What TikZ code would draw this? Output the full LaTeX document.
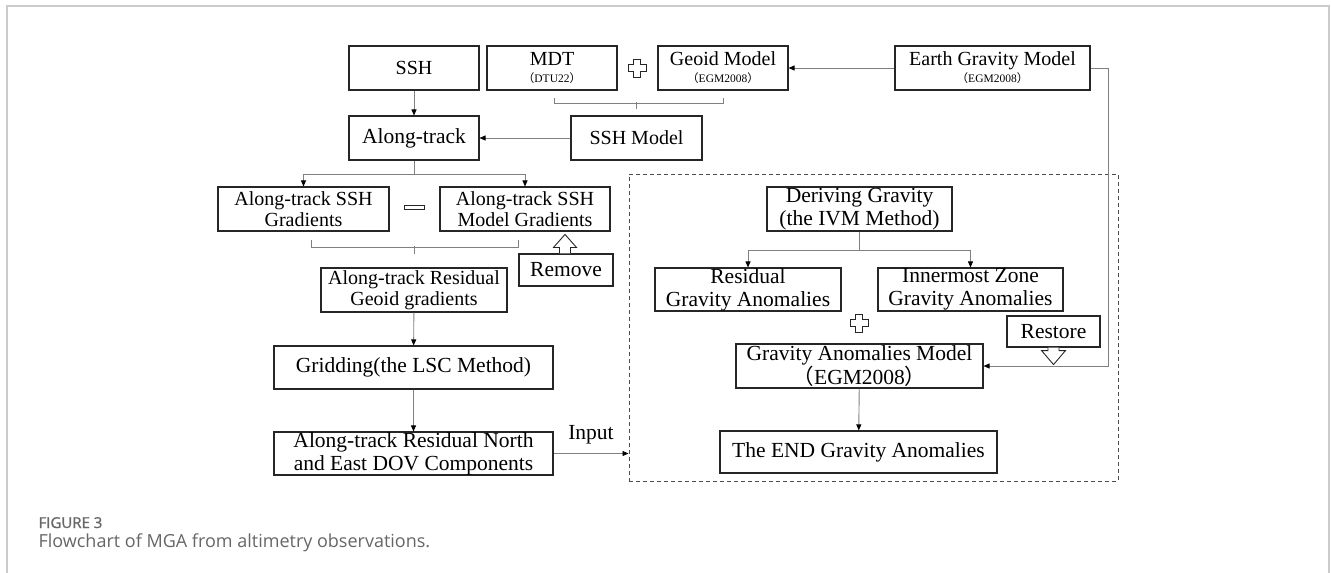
\documentclass[tikz,border=0pt]{standalone}
\usepackage{fontspec}
\setmainfont{Liberation Serif}
\newfontfamily\cjk{Noto Sans CJK SC}
\newfontfamily\capfont{Open Sans}
\newfontfamily\capfontb[FakeBold=1]{Open Sans}
\usetikzlibrary{arrows.meta,calc,positioning}
\newcommand{\zkl}{{\cjk （}}
\newcommand{\zkr}{{\cjk ）}}

\begin{document}
\begin{tikzpicture}[x=1pt,y=-1pt,
  box/.style={draw=black!85,line width=1.1pt,inner sep=0pt,align=center,
    font=\fontsize{20}{21}\selectfont},
  bigbox/.style={box,font=\fontsize{21.5}{23}\selectfont},
  twoline/.style={execute at begin node={\rule{0pt}{16pt}}},
  link/.style={draw=black!50,line width=0.9pt},
  arr/.style={link,-{Triangle[length=6pt,width=5pt,color=black]}},
  hollow/.style={draw=black!85,line width=0.9pt,fill=white},
  dbox/.style={draw=black!70,line width=1pt,dash pattern=on 4pt off 3pt}]
  \useasboundingbox (0,0) rectangle (1331,573);
  \draw[black!20,line width=1.5pt] (7,573) -- (7,6) -- (1329,6) -- (1329,573);

  \node[box,minimum width=130,minimum height=44] (ssh) at (414,68) {SSH};
  \node[box,minimum width=130,minimum height=44] (mdt) at (552,68)
    {MDT\\[-4pt]{\fontsize{11.5}{12}\selectfont\zkl DTU22\zkr}};
  \node[box,minimum width=130,minimum height=44] (geoid) at (723,68)
    {Geoid Model\\[-4pt]{\fontsize{11.5}{12}\selectfont\zkl EGM2008\zkr}};
  \node[box,minimum width=195,minimum height=44] (egm) at (992.5,68)
    {Earth Gravity Model\\[-4pt]{\fontsize{11.5}{12}\selectfont\zkl EGM2008\zkr}};
  \node[bigbox,minimum width=130,minimum height=44] (along) at (414,138) {Along-track};
  \node[box,minimum width=131,minimum height=44] (sshmod) at (636.5,138) {SSH Model};
  \node[box,twoline,minimum width=171,minimum height=44] (grad) at (303.5,209)
    {Along-track SSH\\Gradients};
  \node[box,twoline,minimum width=170,minimum height=44] (modgrad) at (525,209)
    {Along-track SSH\\Model Gradients};
  \node[bigbox,minimum width=94,minimum height=32] (remove) at (566,270) {Remove};
  \node[box,twoline,minimum width=186,minimum height=44] (resgeoid) at (414,290)
    {Along-track Residual\\Geoid gradients};
  \node[bigbox,minimum width=279,minimum height=43] (grid) at (413.5,367.5)
    {Gridding(the LSC Method)};
  \node[bigbox,twoline,minimum width=279,minimum height=43] (dov) at (413.5,453.5)
    {Along-track Residual North\\and East DOV Components};

  \node[dbox,minimum width=489,minimum height=307] (dbox) at (873.5,327.5) {};
  \node[bigbox,twoline,minimum width=185,minimum height=44] (derive) at (859.5,209)
    {Deriving Gravity\\(the IVM Method)};
  \node[bigbox,twoline,minimum width=186,minimum height=43] (resgrav) at (748,289.5)
    {Residual\\Gravity Anomalies};
  \node[bigbox,twoline,minimum width=185,minimum height=43] (inner) at (970.5,289.5)
    {Innermost Zone\\Gravity Anomalies};
  \node[bigbox,minimum width=93,minimum height=31] (restore) at (1053.5,331.5) {Restore};
  \node[bigbox,twoline,minimum width=247,minimum height=44] (gam) at (859.5,366)
    {Gravity Anomalies Model\\\zkl EGM2008\zkr};
  \node[bigbox,minimum width=277,minimum height=42] (endg) at (858.5,452)
    {The END Gravity Anomalies};

  \draw[arr] (ssh) -- (along);
  \draw[arr] (sshmod) -- (along);
  \coordinate (s1) at ($(along.south)+(0,14)$);
  \draw[link] (along) -- (s1);
  \draw[arr] (s1) -| (grad.north);
  \draw[arr] (s1) -| (modgrad.north);
  \draw[arr] (egm) -- (geoid);
  \coordinate (e1) at (1108,366);
  \draw[arr] (egm.east) -| (e1) -- (gam.east);
  \draw[arr] (resgeoid) -- (grid);
  \draw[arr] (grid) -- (dov);
  \draw[arr] (dov.east) -- (dov.east -| dbox.west)
    node[midway,anchor=base,yshift=14pt,font=\fontsize{21.5}{23}\selectfont] (inlab) {Input};
  \coordinate (s2) at ($(derive.south)+(0,19)$);
  \draw[link] (derive) -- (s2);
  \draw[arr] (s2) -| (resgrav.north);
  \draw[arr] (s2) -| (inner.north);
  \draw[arr] (gam) -- (endg);

  \draw[link] ($(mdt.south)+(2,7)$) -- ++(0,6) -| ($(geoid.south)+(0,7)$);
  \draw[link] ($(sshmod.north)+(0,-13)$) -- ++(0,7);
  \draw[link] ($(grad.south)+(7.5,8)$) -- ++(0,8) -| ($(modgrad.south)+(-7,8)$);
  \draw[link] ($(resgeoid.north)+(0,-21)$) -- ++(0,8);

  \foreach \p in {(637,68),(859,323)}
    \draw[hollow,shift={\p}] (-3.3,-9) -- (3.3,-9) -- (3.3,-3.3) -- (9,-3.3) -- (9,3.3)
      -- (3.3,3.3) -- (3.3,9) -- (-3.3,9) -- (-3.3,3.3) -- (-9,3.3) -- (-9,-3.3)
      -- (-3.3,-3.3) -- cycle;
  \draw[hollow] (404,205) rectangle (424,209.5);
  \draw[hollow,shift={(remove.north)}] (-6.5,0) -- (-6.5,-6) -- (-12.5,-6) -- (-1,-19)
    -- (10.5,-6) -- (4.5,-6) -- (4.5,0);
  \draw[hollow,shift={(restore.south)}] (-5.5,0) -- (-5.5,3) -- (-12,3) -- (0,17)
    -- (12,3) -- (5.5,3) -- (5.5,0);

  \node[anchor=base west,text=black!60,font=\capfontb\fontsize{15}{17}\selectfont]
    (figlabel) at (35,528) {FIGURE 3};
  \node[anchor=base west,text=black!60,font=\capfont\fontsize{18}{20}\selectfont]
    (figcap) at (35,547) {Flowchart of MGA from altimetry observations.};
\end{tikzpicture}
\end{document}
